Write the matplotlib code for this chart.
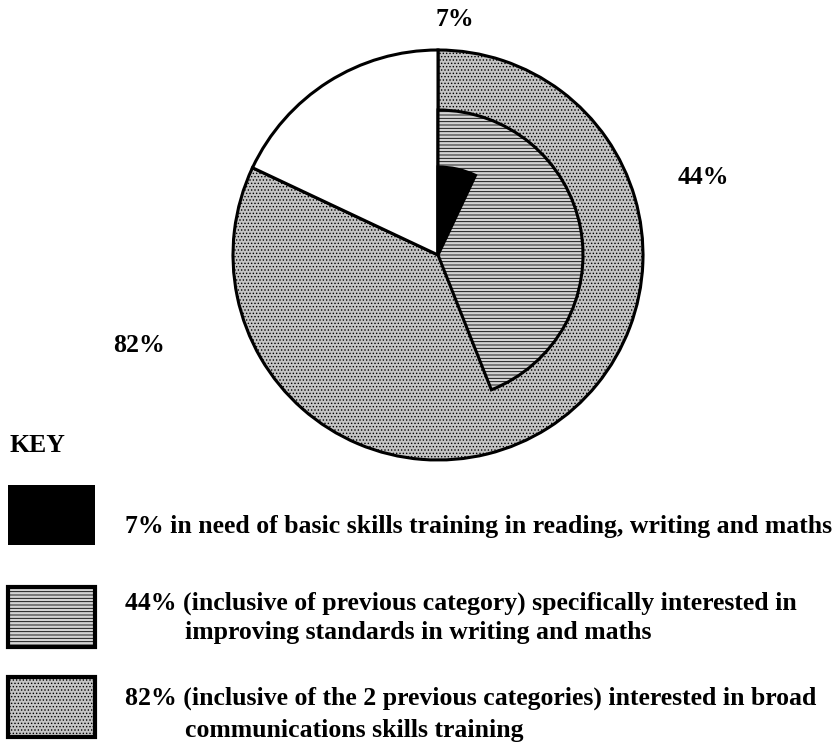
import matplotlib.pyplot as plt
from matplotlib.patches import Rectangle

# ---------------------
# DATA
# ---------------------
shares = [7, 44, 82]
share_labels = ["7%", "44%", "82%"]
key_first_lines = [
    "7% in need of basic skills training in reading, writing and maths",
    "44% (inclusive of previous category) specifically interested in",
    "82% (inclusive of the 2 previous categories) interested in broad",
]
key_second_lines = [
    "",
    "improving standards in writing and maths",
    "communications skills training",
]

# styles: (radius, facecolor, hatch) from inner to outer
ring_styles = [
    (88, "black", None),
    (145, "#d4d4d4", "-----"),
    (205, "#c4c4c4", "....."),
]

plt.rcParams["font.family"] = ["Liberation Serif", "DejaVu Serif"]
plt.rcParams["font.weight"] = "bold"
plt.rcParams["hatch.linewidth"] = 0.6
plt.rcParams["hatch.color"] = "#444444"

fig = plt.figure(figsize=(8.4, 7.5), dpi=100)
ax = fig.add_axes([0, 0, 1, 1])

cx, cy = 438, 495

# draw largest first so smaller ones sit on top
for share, (r, fc, hatch) in reversed(list(zip(shares, ring_styles))):
    wedges, _ = ax.pie(
        [share, 100 - share],
        radius=r,
        center=(cx, cy),
        startangle=90,
        counterclock=False,
        colors=[fc, "white"],
        wedgeprops=dict(edgecolor="black", linewidth=2.2),
        frame=True,
    )
    if hatch:
        wedges[0].set_hatch(hatch)
    if r != 205:
        wedges[1].set_visible(False)

# percentage labels
fs = 18.5
ax.text(455, 731, share_labels[0], ha="center", va="center", fontsize=fs)
ax.text(703, 573, share_labels[1], ha="center", va="center", fontsize=fs)
ax.text(139, 404, share_labels[2], ha="center", va="center", fontsize=fs)

# ---------------------
# KEY
# ---------------------
ax.text(9, 304, "KEY", ha="left", va="center", fontsize=fs)
box_tops = [265, 163, 73]
line1_ys = [223, 147, 52]
line2_ys = [0, 117, 20]
for i in range(3):
    r, fc, hatch = ring_styles[i]
    lw = 0 if i == 0 else 3
    box = Rectangle((8, box_tops[i] - 60), 87, 60, facecolor=fc,
                    edgecolor="black", linewidth=lw, hatch=hatch)
    ax.add_patch(box)
    ax.text(125, line1_ys[i], key_first_lines[i], ha="left", va="center",
            fontsize=fs)
    if key_second_lines[i]:
        ax.text(185, line2_ys[i], key_second_lines[i], ha="left",
                va="center", fontsize=fs)

ax.set_xlim(0, 840)
ax.set_ylim(0, 750)
ax.set_aspect("equal")
ax.axis("off")

fig.savefig("out.png", dpi=100)
